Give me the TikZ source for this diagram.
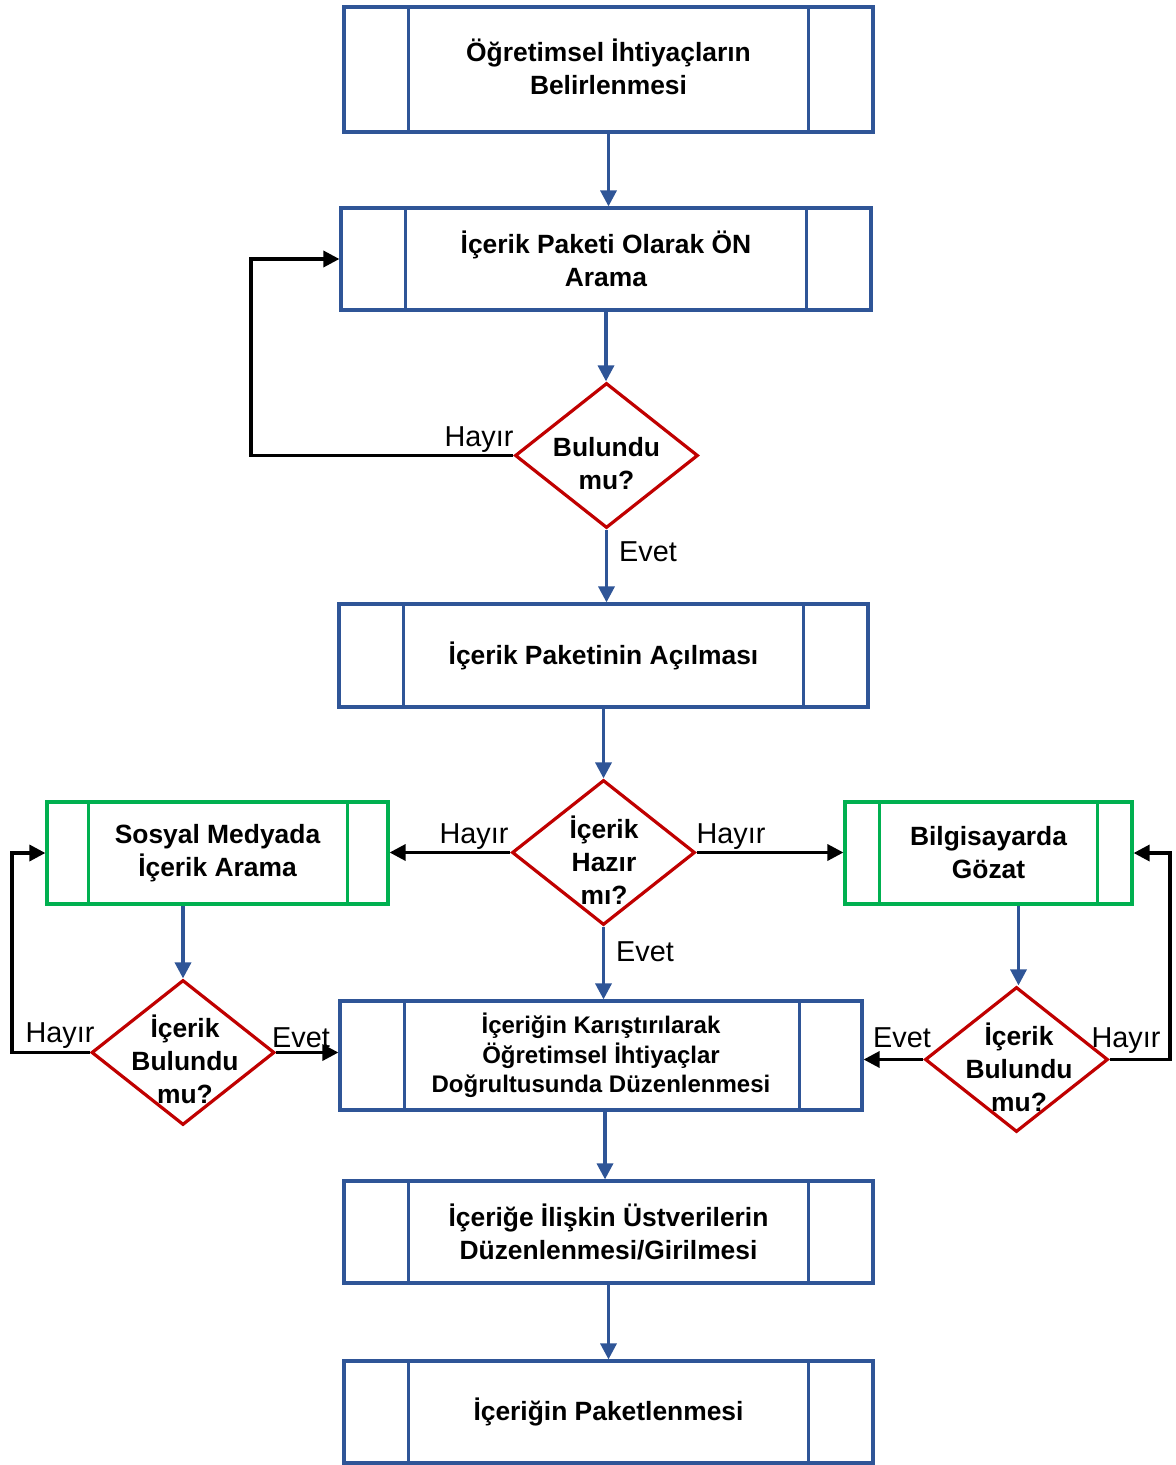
\documentclass[tikz,border=0pt]{standalone}
\usepackage{fontspec}
\setmainfont{Liberation Sans}
\usetikzlibrary{shapes.geometric,arrows.meta}
\definecolor{pblue}{RGB}{47,85,151}
\definecolor{pred}{RGB}{192,0,0}
\definecolor{pgreen}{RGB}{0,176,80}
\newcommand\pbars[4]{\draw[#4,line width=1.6pt] ([xshift=#2]#1.north west) -- ([xshift=#2]#1.south west) ([xshift=-#3]#1.north east) -- ([xshift=-#3]#1.south east);}
\begin{document}
\begin{tikzpicture}[x=0.5pt,y=-0.5pt,
  boxfont/.style={font={\bfseries\fontsize{13.2}{16.5}\selectfont}},
  proc/.style={draw=pblue, line width=1.6pt, rectangle, inner sep=0pt, align=center, boxfont, minimum height=51pt},
  gproc/.style={proc, draw=pgreen},
  dia/.style={diamond, draw=pred, line width=1.6pt, minimum width=91.5pt, minimum height=72.5pt, inner sep=0pt, fill=white},
  dtext/.style={align=center, inner sep=0pt, boxfont},
  barrow/.style={draw=pblue, line width=1.7pt, -{Triangle[length=8pt,width=8pt]}},
  karrow/.style={draw=black, line width=1.7pt, line join=miter, -{Triangle[length=8pt,width=8pt]}},
  lab/.style={anchor=base, inner sep=0pt, font={\fontsize{14.4}{17}\selectfont}}
]
\useasboundingbox (0,0) rectangle (1176,1465);

% boxes
\node[proc, minimum width=264.5pt, minimum height=62.5pt] (b1) at (608.5,69.5) {Öğretimsel İhtiyaçların\\Belirlenmesi\\[-13.5pt]};
\node[proc, minimum width=265pt] (b2) at (606,259) {İçerik Paketi Olarak ÖN\\Arama};
\node[proc, minimum width=264.5pt, minimum height=51.5pt] (b3) at (603.5,655.5) {İçerik Paketinin Açılması};
\node[gproc, minimum width=170.5pt] (gl) at (217.5,853) {Sosyal Medyada\\İçerik Arama};
\node[gproc, minimum width=143.5pt] (gr) at (988.5,853) {Bilgisayarda\\Gözat};
\node[proc, minimum width=261pt, minimum height=54.5pt, font={\bfseries\fontsize{12}{14.75}\selectfont}] (b4) at (601,1055.5) {İçeriğin Karıştırılarak\\Öğretimsel İhtiyaçlar\\Doğrultusunda Düzenlenmesi};
\node[proc, minimum width=264.5pt] (b5) at (608.5,1232) {İçeriğe İlişkin Üstverilerin\\Düzenlenmesi/Girilmesi};
\node[proc, minimum width=264.5pt] (b6) at (608.5,1412) {İçeriğin Paketlenmesi};

\pbars{b1}{33pt}{33pt}{pblue}
\pbars{b2}{33pt}{33pt}{pblue}
\pbars{b3}{33pt}{33pt}{pblue}
\pbars{gl}{21.5pt}{21pt}{pgreen}
\pbars{gr}{18pt}{18pt}{pgreen}
\pbars{b4}{33pt}{32pt}{pblue}
\pbars{b5}{33pt}{33pt}{pblue}
\pbars{b6}{33pt}{33pt}{pblue}

% diamonds
\node[dia] (d1) at (606.5,455.5) {};
\node[dia] (d2) at (603.5,852.5) {};
\node[dia] (d3) at (183,1052.5) {};
\node[dia] (d4) at (1016.5,1059.5) {};
\node[dtext] (d1t) at (606.5,464) {Bulundu\\mu?};
\node[dtext] (d2t) at (604,860) {İçerik\\Hazır\\mı?};
\node[dtext] (d3t) at (185,1059) {İçerik\\Bulundu\\mu?};
\node[dtext] (d4t) at (1019,1067) {İçerik\\Bulundu\\mu?};

% corner coordinates
\coordinate (lx1) at (251,0);
\coordinate (lx2) at (12,0);
\coordinate (rx) at (1170,0);

% connectors
\draw[barrow] (b1.south) -- (b1.south |- b2.north);
\draw[barrow] (b2.south) -- (b2.south |- d1.north);
\draw[karrow] (d1.west) -- (d1.west -| lx1) |- (b2.west);
\draw[barrow] (d1.south) -- (d1.south |- b3.north);
\draw[barrow] (b3.south) -- (b3.south |- d2.north);
\draw[karrow] (d2.west) -- (d2.west -| gl.east);
\draw[karrow] (d2.east) -- (d2.east -| gr.west);
\draw[barrow] (d2.south) -- (d2.south |- b4.north);
\draw[barrow] (d3.north |- gl.south) -- (d3.north);
\draw[barrow] ([xshift=1pt]d4.north |- gr.south) -- ([xshift=1pt]d4.north);
\draw[karrow] (d3.west) -- (d3.west -| lx2) |- (gl.west);
\draw[karrow] (d3.east) -- (d3.east -| b4.west);
\draw[karrow] (d4.west) -- (d4.west -| b4.east);
\draw[karrow] (d4.east) -- (d4.east -| rx) |- (gr.east);
\draw[barrow] ([xshift=2pt]b4.south) -- ([xshift=2pt]b4.south |- b5.north);
\draw[barrow] (b5.south) -- (b5.south |- b6.north);

% labels
\node[lab] (l1) at (479,446) {Hayır};
\node[lab] (l2) at (648,561) {Evet};
\node[lab] (l3) at (474,843) {Hayır};
\node[lab] (l4) at (731,843) {Hayır};
\node[lab] (l5) at (645,961) {Evet};
\node[lab] (l6) at (60,1042) {Hayır};
\node[lab] (l7) at (301,1047) {Evet};
\node[lab] (l8) at (902,1047) {Evet};
\node[lab] (l9) at (1126,1047) {Hayır};
\end{tikzpicture}
\end{document}
